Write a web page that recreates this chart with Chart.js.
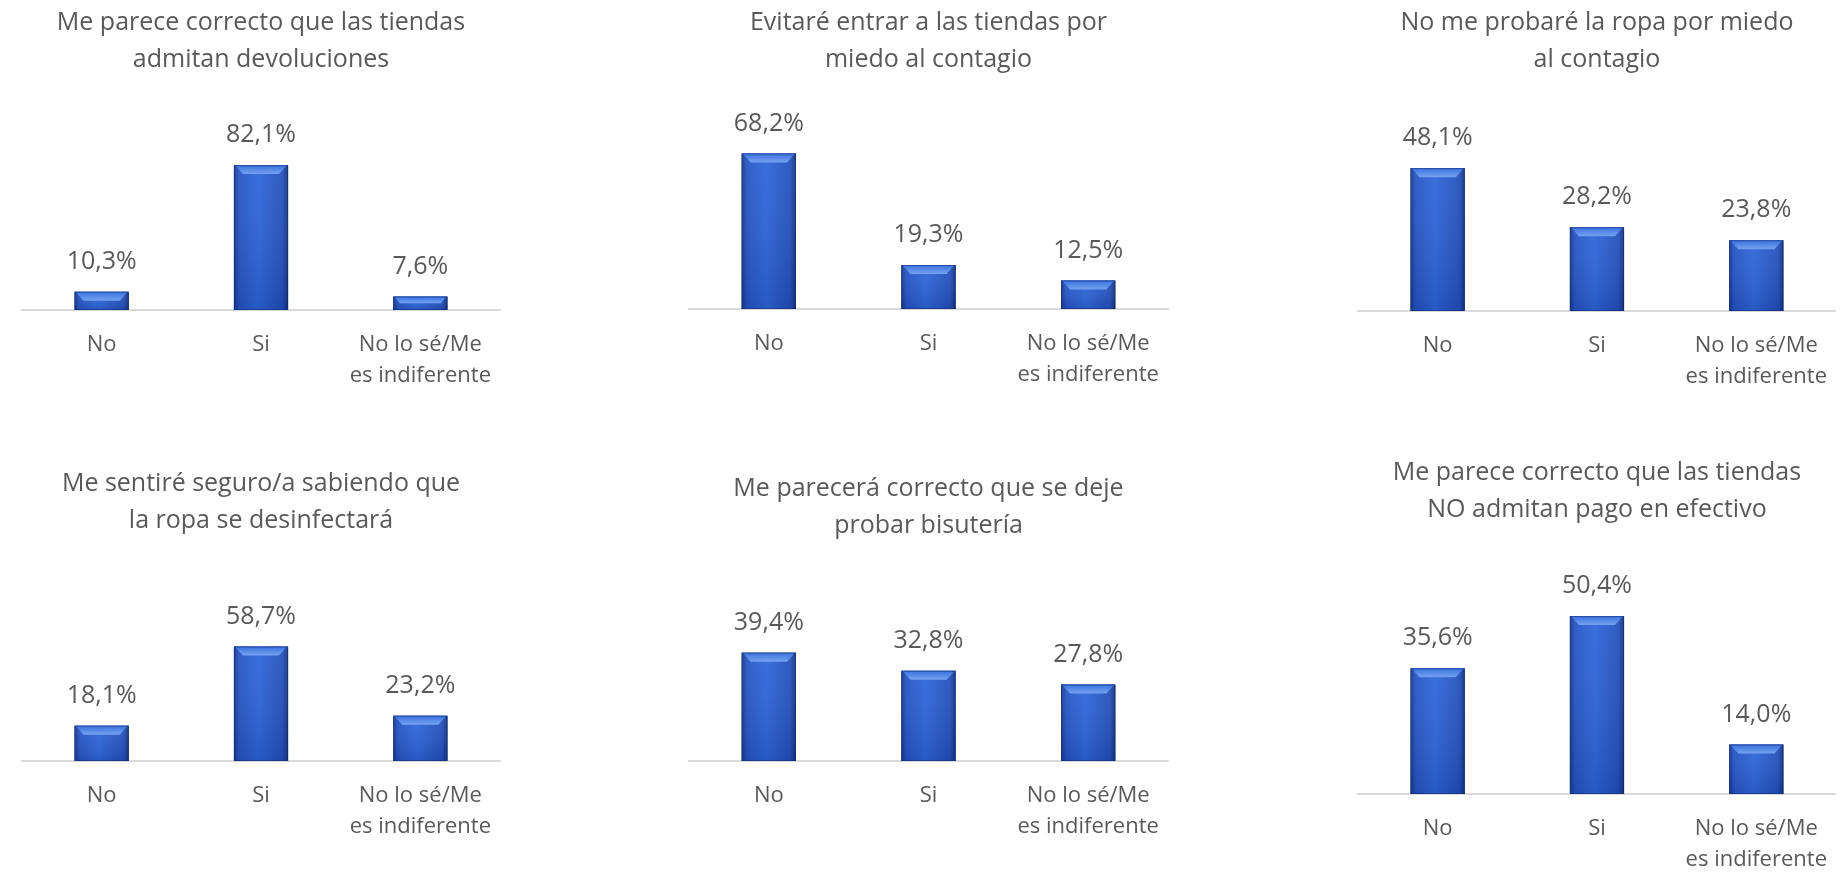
<!DOCTYPE html>
<html>
<head>
<meta charset="utf-8">
<script src="https://cdn.jsdelivr.net/npm/chart.js@4.4.1/dist/chart.umd.min.js"></script>
<style>
    html, body { margin: 0; padding: 0; background: #ffffff; }
    #contenedor { position: relative; width: 1848px; height: 872px; overflow: hidden; }
    .celda { position: absolute; width: 616px; height: 436px; }
</style>
</head>
<body>
<div id="contenedor">
    <div class="celda" style="left:0px;top:0px"><canvas id="grafico1"></canvas></div>
    <div class="celda" style="left:616px;top:0px"><canvas id="grafico2"></canvas></div>
    <div class="celda" style="left:1232px;top:0px"><canvas id="grafico3"></canvas></div>
    <div class="celda" style="left:0px;top:436px"><canvas id="grafico4"></canvas></div>
    <div class="celda" style="left:616px;top:436px"><canvas id="grafico5"></canvas></div>
    <div class="celda" style="left:1232px;top:436px"><canvas id="grafico6"></canvas></div>
</div>
<script>
// categorias comunes a los seis graficos
var categorias = ['No', 'Si', ['No lo sé/Me', 'es indiferente']];

var titulo1 = ['Me parece correcto que las tiendas', 'admitan devoluciones'];
var valores1 = [10.3, 82.1, 7.6];

var titulo2 = ['Evitaré entrar a las tiendas por', 'miedo al contagio'];
var valores2 = [68.2, 19.3, 12.5];

var titulo3 = ['No me probaré la ropa por miedo', 'al contagio'];
var valores3 = [48.1, 28.2, 23.8];

var titulo4 = ['Me sentiré seguro/a sabiendo que', 'la ropa se desinfectará'];
var valores4 = [18.1, 58.7, 23.2];

var titulo5 = ['Me parecerá correcto que se deje', 'probar bisutería'];
var valores5 = [39.4, 32.8, 27.8];

var titulo6 = ['Me parece correcto que las tiendas', 'NO admitan pago en efectivo'];
var valores6 = [35.6, 50.4, 14.0];

var FUENTE = "'Open Sans', 'DejaVu Sans', sans-serif";
var GRIS = '#595959';
var ALTO = 436;
var LINEA_TITULO = 37;

// texto del porcentaje encima de cada barra
var etiquetasValor = {
    id: 'etiquetasValor',
    afterDatasetsDraw: function (chart) {
        var ctx = chart.ctx;
        var datos = chart.data.datasets[0].data;
        ctx.save();
        ctx.font = '25px ' + FUENTE;
        ctx.fillStyle = GRIS;
        ctx.textAlign = 'center';
        ctx.textBaseline = 'middle';
        chart.getDatasetMeta(0).data.forEach(function (barra, i) {
            var texto = datos[i].toFixed(1).replace('.', ',') + '%';
            ctx.fillText(texto, barra.x, barra.y - 30);
        });
        ctx.restore();
    }
};

// sombreado con relieve de las barras
var relieveBarras = {
    id: 'relieveBarras',
    afterDatasetsDraw: function (chart) {
        var ctx = chart.ctx;
        chart.getDatasetMeta(0).data.forEach(function (barra) {
            var p = barra.getProps(['x', 'y', 'base', 'width'], true);
            var izq = p.x - p.width / 2;
            var der = p.x + p.width / 2;
            var alto = p.base - p.y;
            ctx.save();

            var g = ctx.createLinearGradient(izq, 0, der, 0);
            g.addColorStop(0, '#173a90');
            g.addColorStop(0.1, '#2655c4');
            g.addColorStop(0.45, '#2e66da');
            g.addColorStop(0.9, '#2350bb');
            g.addColorStop(1, '#14327c');
            ctx.fillStyle = g;
            ctx.fillRect(izq, p.y, p.width, alto);

            var gv = ctx.createLinearGradient(0, p.y, 0, p.base);
            gv.addColorStop(0, 'rgba(255,255,255,0.06)');
            gv.addColorStop(1, 'rgba(0,10,60,0.14)');
            ctx.fillStyle = gv;
            ctx.fillRect(izq, p.y, p.width, alto);

            var b = Math.min(9, alto / 2);
            var gb = ctx.createLinearGradient(0, p.y, 0, p.y + b);
            gb.addColorStop(0, '#3a70de');
            gb.addColorStop(1, '#74a2f2');
            ctx.fillStyle = gb;
            ctx.beginPath();
            ctx.moveTo(izq + 1, p.y);
            ctx.lineTo(der - 1, p.y);
            ctx.lineTo(der - b, p.y + b);
            ctx.lineTo(izq + b, p.y + b);
            ctx.closePath();
            ctx.fill();

            ctx.strokeStyle = 'rgba(16,40,100,0.5)';
            ctx.lineWidth = 1;
            ctx.strokeRect(izq + 0.5, p.y + 0.5, p.width - 1, alto - 1);
            ctx.restore();
        });
    }
};

function crearGrafico(idCanvas, titulo, valores, margenIzq, margenDer, ejeY, pxPorUnidad, centroTitulo) {
    var padTitulo = centroTitulo - LINEA_TITULO / 2;
    var altoTitulo = padTitulo + LINEA_TITULO * titulo.length + 8;
    var maximo = (ejeY - altoTitulo) / pxPorUnidad;
    var altoEjeX = ALTO - ejeY;

    return new Chart(document.getElementById(idCanvas), {
        type: 'bar',
        data: {
            labels: categorias,
            datasets: [{
                data: valores,
                backgroundColor: '#2a5bcc',
                borderWidth: 0,
                barPercentage: 0.34,
                categoryPercentage: 1
            }]
        },
        options: {
            responsive: true,
            maintainAspectRatio: false,
            animation: false,
            events: [],
            layout: {
                padding: { left: margenIzq, right: margenDer, top: 0, bottom: 0 }
            },
            plugins: {
                legend: { display: false },
                tooltip: { enabled: false },
                title: {
                    display: true,
                    text: titulo,
                    fullSize: false,
                    color: GRIS,
                    font: { family: FUENTE, size: 25, weight: 'normal', lineHeight: LINEA_TITULO / 25 },
                    padding: { top: padTitulo, bottom: 8 }
                }
            },
            scales: {
                x: {
                    grid: { display: false, drawTicks: false },
                    border: { display: true, color: '#d9d9d9', width: 2 },
                    ticks: {
                        color: GRIS,
                        font: { family: FUENTE, size: 22, lineHeight: 31 / 22 },
                        padding: 19,
                        maxRotation: 0,
                        autoSkip: false
                    },
                    afterFit: function (escala) { escala.height = altoEjeX; }
                },
                y: {
                    display: false,
                    min: 0,
                    max: maximo
                }
            }
        },
        plugins: [relieveBarras, etiquetasValor]
    });
}

crearGrafico('grafico1', titulo1, valores1, 22, 116, 310, 1.765, 23);
crearGrafico('grafico2', titulo2, valores2, 73, 64, 309, 2.28, 23);
crearGrafico('grafico3', titulo3, valores3, 126, 11, 311, 2.97, 23);
crearGrafico('grafico4', titulo4, valores4, 22, 116, 325, 1.95, 48);
crearGrafico('grafico5', titulo5, valores5, 73, 64, 325, 2.75, 53);
crearGrafico('grafico6', titulo6, valores6, 126, 11, 358, 3.53, 37);
</script>
</body>
</html>
